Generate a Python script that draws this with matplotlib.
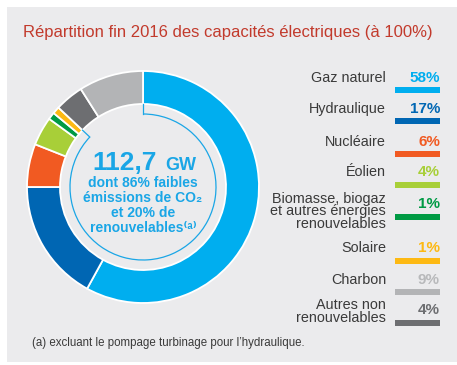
import matplotlib
matplotlib.use('Agg')
import matplotlib.pyplot as plt
from matplotlib.patches import Rectangle, Arc
import numpy as np

# Capacity shares, end of 2016 (legend order)
categories = ['Gaz naturel', 'Hydraulique', 'Nucléaire', 'Éolien',
              'Biomasse, biogaz\net autres énergies\nrenouvelables',
              'Solaire', 'Charbon', 'Autres non\nrenouvelables']
shares = [58, 17, 6, 4, 1, 1, 9, 4]
colors = ['#00aeef', '#0066b3', '#f15a22', '#a8cf38',
          '#009a44', '#fdb913', '#b3b4b6', '#6d6e71']
pct_colors = ['#00aeef', '#0066b3', '#f15a22', '#a8cf38',
              '#009a44', '#fdb913', '#b8b9bb', '#6d6e71']

# Ring runs clockwise from 12 o'clock in this order
ring_order = [0, 1, 2, 3, 4, 5, 7, 6]
# Sources grouped by the inner bracket (gas through solar)
bracket_count = 6

title = 'Répartition fin 2016 des capacités électriques (à 100%)'
total_label = '112,7'
unit_label = 'GW'
center_lines = ['dont 86% faibles', 'émissions de CO₂', 'et 20% de', 'renouvelables⁽ᵃ⁾']
footnote = "(a) excluant le pompage turbinage pour l’hydraulique."

W, H = 457, 365
fig = plt.figure(figsize=(W / 100, H / 100), dpi=100)
ax = fig.add_axes([0, 0, 1, 1])

# grey card behind everything
ax.add_patch(Rectangle((7, 3), W - 7, H - 10, facecolor='#ebebed', edgecolor='none', zorder=0))

cx, cy = 143, H - 187
r_out, ring_w, r_brk = 116, 33, 73

ax.pie([shares[i] for i in ring_order], colors=[colors[i] for i in ring_order],
       startangle=90, counterclock=False, radius=r_out, center=(cx, cy),
       wedgeprops=dict(width=ring_w, edgecolor='white', linewidth=1.3))

# thin bracket inside the ring
blue = '#1aa6e6'
end_ang = 90 - 360 * sum(shares[i] for i in ring_order[:bracket_count]) / 100
ax.add_patch(Arc((cx, cy), 2 * r_brk, 2 * r_brk, theta1=end_ang, theta2=90,
                 color=blue, lw=0.9, zorder=3))
for a in (90, end_ang):
    t = np.deg2rad(a)
    ax.plot([cx + r_brk * np.cos(t), cx + (r_out - ring_w) * np.cos(t)],
            [cy + r_brk * np.sin(t), cy + (r_out - ring_w) * np.sin(t)],
            color=blue, lw=0.9, zorder=3)

# centre text (multi-line text is anchored on its last baseline)
ax.text(157, H - 170, total_label, ha='right', va='baseline', fontsize=19,
        fontweight='bold', color=blue, family='Liberation Sans')
ax.text(165, H - 170, unit_label, ha='left', va='baseline', fontsize=13,
        fontweight='bold', color=blue, family='Liberation Sans')
ax.text(cx, H - 232, '\n'.join(center_lines), ha='center', va='baseline', fontsize=10,
        linespacing=1.08, fontweight='bold', color=blue,
        family=['Liberation Sans', 'DejaVu Sans'])

# title and footnote
ax.text(23, H - 33, title, ha='left', va='center', fontsize=12,
        color='#c23a2c', family='Liberation Sans')
ax.text(32, H - 343, footnote, ha='left', va='center', fontsize=8.3,
        color='#3a3a3a', family='Liberation Sans')

# legend: label, percentage and colour bar for each source
bar_y = [89.5, 121, 153.5, 184.5, 216.5, 260.5, 291.5, 322.5]
for lab, val, col, pcol, by in zip(categories, shares, colors, pct_colors, bar_y):
    ax.add_patch(Rectangle((395, H - by - 3), 45, 6, facecolor=col, edgecolor='none', zorder=2))
    ax.text(440, H - (by - 8), f'{val}%', ha='right', va='baseline', fontsize=11,
            fontweight='bold', color=pcol, family='Liberation Sans')
    n = lab.count('\n')
    last = by - 8 if n == 0 else by - 12.5 + 12 * n
    ax.text(386, H - last, lab, ha='right', va='baseline', fontsize=10.4,
            linespacing=0.87, color='#3a3a3a', family='Liberation Sans')

ax.set_xlim(0, W)
ax.set_ylim(0, H)
ax.set_aspect('equal')
ax.axis('off')

fig.savefig('out.png', dpi=100, facecolor='white')
